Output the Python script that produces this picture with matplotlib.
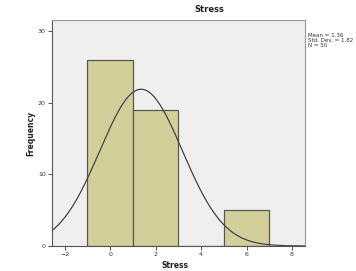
import numpy as np
import matplotlib.pyplot as plt

# Histograma de Stress (estilo SPSS)
bin_edges = [-1, 1, 3, 5, 7]
counts = [26, 19, 0, 5]
mean = 1.36
std = 1.82
n = 50
xticks = [-2, 0, 2, 4, 6, 8]
yticks = [0, 10, 20, 30]

W, H = 356, 271
fig = plt.figure(figsize=(W / 100, H / 100), dpi=100)
fig.patch.set_facecolor('white')
ax = fig.add_axes([52 / W, 1 - 246 / H, (305 - 52) / W, (246 - 20) / H])
ax.set_facecolor('#efefef')

# barras
lefts = bin_edges[:-1]
widths = np.diff(bin_edges)
ax.bar(lefts, counts, width=widths, align='edge', color='#d3cf9b',
       edgecolor='#5a5a4a', linewidth=0.9)

# curva normal escalada
binw = widths[0]
xs = np.linspace(-2.56, 8.57, 400)
ys = n * binw / (std * np.sqrt(2 * np.pi)) * np.exp(-0.5 * ((xs - mean) / std) ** 2)
ax.plot(xs, ys, color='#444444', linewidth=0.9)

ax.set_xlim(-2.56, 8.57)
ax.set_ylim(0, 31.6)
ax.set_xticks(xticks)
ax.set_yticks(yticks)
ax.tick_params(axis='both', labelsize=4.5, colors='#333333', length=3, width=0.6, pad=1.5)

for s in ['left', 'bottom']:
    ax.spines[s].set_color('#555555')
    ax.spines[s].set_linewidth(0.8)
for s in ['top', 'right']:
    ax.spines[s].set_color('#999999')
    ax.spines[s].set_linewidth(0.8)

fig.text(209 / W, 1 - 9 / H, 'Stress', ha='center', va='center',
         fontsize=6, fontweight='bold', color='#222222')
fig.text(31 / W, 1 - 133 / H, 'Frequency', ha='center', va='center', rotation=90,
         fontsize=5.5, fontweight='bold', color='#222222')
fig.text(175 / W, 1 - 266 / H, 'Stress', ha='center', va='center',
         fontsize=5.5, fontweight='bold', color='#222222')
fig.text(308 / W, 1 - 33 / H, f'Mean = {mean}\nStd. Dev. = {std}\nN = {n}',
         ha='left', va='top', fontsize=4, color='#333333', linespacing=1.0)

plt.savefig('out.png', dpi=100)
